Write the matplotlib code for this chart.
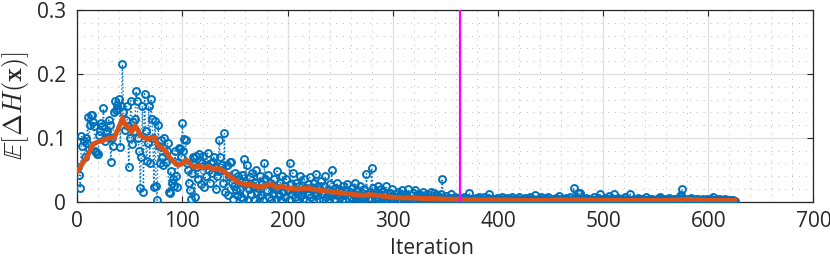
import matplotlib
matplotlib.use("Agg")
import matplotlib.pyplot as plt
import numpy as np
from matplotlib.ticker import MultipleLocator

# Blue samples (in units of 1e-3), iterations 1..625
blue_milli = [
    54, 42, 21, 103, 88, 95, 70, 100, 92, 132, 82, 120, 135, 135, 125, 118, 80, 78, 74, 75, 105, 110, 124, 118, 146,
    95, 108, 110, 102, 128, 120, 63, 100, 88, 140, 158, 143, 152, 145, 161, 86, 150, 215, 140, 112, 128, 150, 118, 54, 100,
    158, 90, 125, 110, 130, 173, 158, 100, 80, 21, 70, 150, 16, 169, 110, 64, 92, 150, 60, 161, 130, 100, 23, 126, 25,
    2, 120, 88, 60, 96, 70, 58, 100, 62, 80, 92, 15, 13, 48, 30, 35, 25, 80, 40, 23, 62, 84, 83, 70, 123,
    80, 98, 96, 60, 50, 30, 18, 5, 45, 70, 68, 7, 72, 55, 35, 74, 66, 28, 60, 72, 23, 40, 58, 77, 50,
    30, 60, 45, 62, 70, 55, 20, 40, 48, 97, 70, 50, 58, 30, 107, 15, 58, 10, 40, 62, 63, 30, 5, 25, 45,
    18, 10, 40, 35, 20, 8, 42, 5, 67, 30, 58, 2, 20, 38, 12, 45, 25, 3, 30, 50, 15, 22, 0, 40, 10,
    28, 2, 61, 35, 18, 42, 8, 30, 2, 25, 12, 35, 20, 5, 48, 22, 10, 30, 3, 40, 15, 25, 8, 35, 18,
    2, 60, 28, 12, 45, 20, 8, 30, 15, 2, 25, 40, 10, 18, 5, 35, 22, 3, 28, 12, 38, 8, 20, 2, 30,
    15, 43, 10, 25, 5, 20, 32, 12, 2, 25, 40, 8, 18, 3, 28, 10, 49, 15, 5, 22, 2, 30, 12, 20, 8,
    15, 3, 25, 10, 2, 18, 28, 5, 15, 8, 22, 3, 12, 30, 6, 18, 2, 10, 25, 5, 14, 3, 20, 8, 44,
    12, 2, 16, 6, 53, 22, 10, 3, 15, 8, 25, 2, 12, 20, 5, 16, 3, 10, 25, 2, 8, 14, 4, 20, 6,
    2, 12, 8, 3, 15, 5, 10, 2, 18, 6, 3, 12, 1, 8, 20, 4, 10, 2, 14, 5, 19, 3, 8, 12, 2,
    6, 10, 3, 15, 4, 1, 8, 12, 2, 6, 16, 3, 9, 14, 4, 2, 10, 5, 1, 7, 12, 36, 3, 6, 2,
    9, 4, 1, 6, 12, 3, 5, 2, 8, 4, 1, 6, 3, 2, 5, 1, 4, 7, 2, 3, 6, 1, 14, 4, 2,
    5, 3, 1, 6, 2, 4, 8, 1, 3, 5, 2, 7, 3, 1, 4, 6, 12, 2, 3, 5, 1, 4, 2, 6, 3,
    1, 4, 2, 7, 3, 5, 1, 2, 6, 3, 1, 4, 8, 2, 3, 5, 1, 4, 2, 7, 3, 1, 5, 2, 4,
    6, 1, 3, 2, 5, 8, 2, 4, 1, 10, 3, 2, 5, 1, 4, 7, 2, 3, 1, 6, 2, 4, 8, 1, 3,
    5, 2, 1, 4, 6, 3, 2, 9, 1, 4, 2, 5, 3, 1, 6, 2, 4, 3, 7, 1, 5, 22, 3, 2, 6,
    13, 2, 13, 4, 1, 5, 3, 2, 6, 1, 4, 3, 2, 5, 1, 7, 3, 2, 4, 6, 1, 12, 3, 2, 5,
    1, 4, 6, 2, 3, 9, 1, 5, 2, 12, 4, 3, 1, 6, 2, 4, 1, 3, 5, 2, 7, 1, 3, 4, 2,
    12, 1, 3, 5, 2, 4, 1, 6, 2, 3, 5, 1, 4, 2, 3, 7, 1, 2, 4, 3, 1, 5, 2, 3, 1,
    4, 2, 6, 8, 1, 3, 5, 2, 1, 4, 3, 2, 6, 1, 3, 2, 5, 1, 4, 3, 2, 6, 9, 11, 20,
    4, 2, 5, 1, 3, 2, 4, 1, 6, 2, 3, 1, 5, 2, 4, 1, 3, 2, 1, 4, 2, 3, 1, 5, 2,
    3, 1, 4, 2, 8, 1, 3, 5, 2, 1, 4, 2, 3, 1, 2, 4, 1, 3, 2, 1, 3, 2, 1, 2, 1,
]

# Orange smoothed curve
orange_x = [1, 5, 10, 15, 20, 25, 30, 35, 38, 43, 46, 49, 52, 55, 58, 60, 64, 67, 70, 74,
            76, 80, 84, 88, 92, 96, 100, 104, 108, 112, 116, 120, 125, 130, 135, 140, 145,
            150, 155, 160, 165, 170, 175, 180, 185, 190, 195, 200, 210, 220, 230, 240, 250,
            260, 270, 280, 290, 300, 310, 320, 330, 340, 350, 360, 370, 380, 400, 420, 440,
            460, 480, 500, 520, 540, 560, 575, 580, 600, 625]
orange_y = [0.049, 0.06, 0.072, 0.09, 0.094, 0.096, 0.1, 0.1, 0.11, 0.13, 0.12, 0.116, 0.11,
            0.118, 0.112, 0.104, 0.1, 0.098, 0.1, 0.1, 0.09, 0.084, 0.08, 0.069, 0.062, 0.057,
            0.06, 0.065, 0.058, 0.054, 0.056, 0.053, 0.055, 0.051, 0.052, 0.047, 0.04, 0.034,
            0.029, 0.027, 0.027, 0.024, 0.023, 0.026, 0.027, 0.022, 0.024, 0.021, 0.02, 0.021,
            0.018, 0.016, 0.014, 0.012, 0.01, 0.011, 0.009, 0.007, 0.006, 0.006, 0.005, 0.005,
            0.004, 0.004, 0.003, 0.003, 0.003, 0.002, 0.002, 0.003, 0.003, 0.002, 0.002, 0.002,
            0.002, 0.003, 0.004, 0.002, 0.002]

vline_x = 364

x_ticks = [0, 100, 200, 300, 400, 500, 600, 700]
y_ticks = [0, 0.1, 0.2, 0.3]
y_tick_labels = ["0", "0.1", "0.2", "0.3"]

plt.rcParams['font.family'] = ['Open Sans', 'DejaVu Sans']
plt.rcParams['mathtext.fontset'] = 'cm'

fig = plt.figure(figsize=(8.3, 2.58), dpi=100)
ax = fig.add_axes([0.093, 0.218, 0.887, 0.743])

iters = np.arange(1, len(blue_milli) + 1)
blue = np.array(blue_milli) / 1000.0

ax.plot(iters, blue, linestyle=':', color='#0072BD', linewidth=1.0,
        marker='o', markersize=5, markerfacecolor='none', markeredgewidth=1.4,
        markeredgecolor='#0072BD', zorder=3)
ax.plot(orange_x, orange_y, color='#D95319', linewidth=3.6, zorder=4,
        solid_joinstyle='miter')
ax.axvline(vline_x, color='#FF00FF', linewidth=1.6, zorder=5)

ax.set_xlim(0, 700)
ax.set_ylim(0, 0.3)
ax.set_xticks(x_ticks)
ax.set_yticks(y_ticks)
ax.set_yticklabels(y_tick_labels)
ax.xaxis.set_minor_locator(MultipleLocator(20))
ax.yaxis.set_minor_locator(MultipleLocator(0.02))

ax.grid(which='major', color='#DFDFDF', linewidth=0.9, linestyle='-')
ax.grid(which='minor', color='#B8B8B8', linewidth=0.7, linestyle=(0, (1, 6)))
ax.set_axisbelow(True)

ax.tick_params(which='major', direction='in', top=True, right=True,
               labelsize=15, colors='#262626', length=4)
ax.tick_params(which='minor', direction='in', length=0)
ax.tick_params(axis='x', which='major', pad=7)
ax.tick_params(axis='y', which='major', pad=8)
for s in ax.spines.values():
    s.set_color('#262626')
    s.set_linewidth(0.9)

ax.set_xlabel('Iteration', fontsize=15.2, color='#262626', labelpad=0)
ax.xaxis.set_label_coords(0.482, -0.19)
ax.xaxis.label.set_va('top')
ax.set_ylabel(r'$\mathbb{E}[\Delta H(\mathbf{x})]$', fontsize=19, color='#262626', labelpad=4)

fig.savefig('out.png', dpi=100)
